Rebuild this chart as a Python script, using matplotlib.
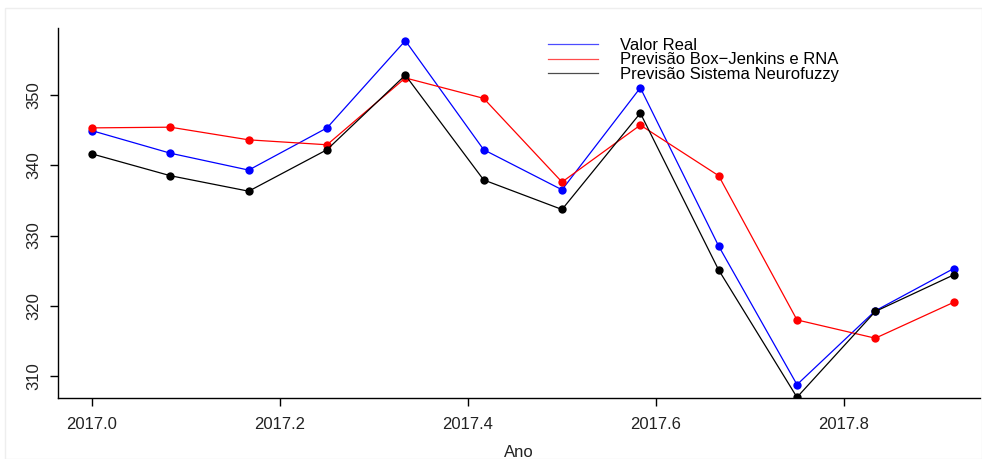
import matplotlib
matplotlib.use("Agg")
import numpy as np
import matplotlib.pyplot as plt
from matplotlib.patches import Rectangle

plt.rcParams["font.family"] = ["Liberation Sans", "DejaVu Sans"]

# meses de 2017 (jan..dez)
meses = np.arange(12)
anos = 2017 + meses / 12.0

valor_real = [344.9, 341.7, 339.3, 345.3, 357.7, 342.2, 336.5, 351.0, 328.5, 308.8, 319.3, 325.3]
previsao_bj_rna = [345.3, 345.4, 343.6, 342.9, 352.4, 349.5, 337.6, 345.7, 338.5, 318.0, 315.4, 320.5]
previsao_neurofuzzy = [341.6, 338.5, 336.3, 342.2, 352.8, 337.9, 333.7, 347.4, 325.1, 307.0, 319.2, 324.4]

x_ticks = [2017.0, 2017.2, 2017.4, 2017.6, 2017.8]
y_ticks = [310, 320, 330, 340, 350]

fig = plt.figure(figsize=(9.82, 4.59), dpi=100)
ax = fig.add_axes([58 / 982, 61 / 459, 922 / 982, 370 / 459])

# borda clara em volta da imagem
fig.patches.append(Rectangle((5 / 982, 0), 977 / 982, 451 / 459, transform=fig.transFigure,
                             fill=False, edgecolor="#eeeeee", linewidth=1))

series = [
    (valor_real, "blue", "Valor Real"),
    (previsao_bj_rna, "red", "Previsão Box\u2212Jenkins e RNA"),
    (previsao_neurofuzzy, "black", "Previsão Sistema Neurofuzzy"),
]
for vals, cor, nome in series:
    ax.plot(anos, vals, color=cor, linewidth=0.9, marker="o", markersize=6,
            markeredgewidth=0, label=nome)

ax.set_xlim(2016.9638, 2017.9447)
ax.set_ylim(306.9, 359.5)
ax.set_xticks(x_ticks)
ax.set_xticklabels([f"{t:.1f}" for t in x_ticks])
ax.set_yticks(y_ticks)
ax.set_yticklabels([str(t) for t in y_ticks], rotation=90, va="center")

for s in ["top", "right"]:
    ax.spines[s].set_visible(False)
ax.spines["left"].set_linewidth(1.0)
ax.spines["bottom"].set_linewidth(1.0)
ax.tick_params(axis="both", direction="out", length=6, width=1, labelsize=12,
               labelcolor="#222222", pad=8)
ax.tick_params(axis="y", pad=6)

ax.set_xlabel("Ano", fontsize=12, color="#222222", labelpad=9)

leg = ax.legend(loc="upper left", bbox_to_anchor=(475 / 922, 1.013), frameon=False,
                fontsize=12, handlelength=3.0, handletextpad=1.35, labelspacing=-0.05,
                markerscale=0)
for h in leg.legend_handles:
    h.set_marker("")
    h.set_alpha(0.7)

fig.savefig("out.png", dpi=100)
